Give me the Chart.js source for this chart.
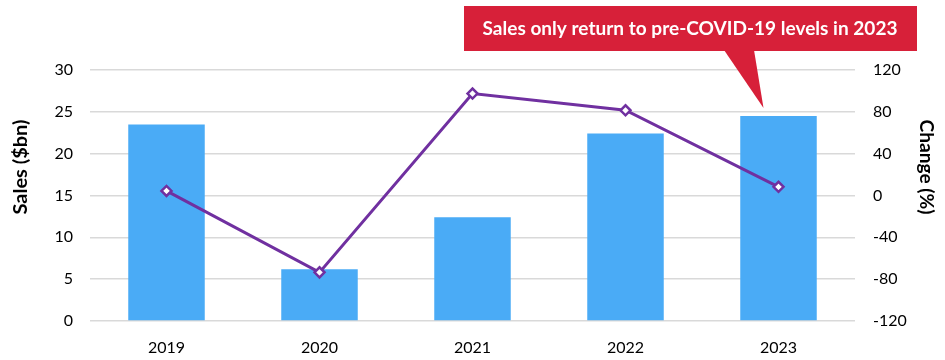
<!DOCTYPE html>
<html><head><meta charset="utf-8">
<script src="https://cdn.jsdelivr.net/npm/chart.js@4"></script>
<style>html,body{margin:0;padding:0;background:#fff;overflow:hidden}</style>
</head>
<body>
<canvas id="c" width="945" height="360"></canvas>
<script>
const categories = ['2019', '2020', '2021', '2022', '2023'];
const salesBn = [23.5, 6.2, 12.4, 22.4, 24.5];
const changePct = [4.4, -73.5, 97.5, 81.5, 8.3];
const leftTicks = [0, 5, 10, 15, 20, 25, 30];
const rightTicks = [-120, -80, -40, 0, 40, 80, 120];
const leftTitle = 'Sales ($bn)';
const rightTitle = 'Change (%)';
const calloutText = 'Sales only return to pre-COVID-19 levels in 2023';

const FONT = 'Lato, "Open Sans", sans-serif';

function fitText(ctx, text, x, y, size, targetW) {
  ctx.font = 'bold ' + size + 'px ' + FONT;
  const w = ctx.measureText(text).width;
  const sx = targetW / w;
  ctx.save();
  ctx.translate(x, y);
  ctx.scale(sx, 1);
  ctx.textAlign = 'center';
  ctx.textBaseline = 'middle';
  ctx.fillText(text, 0, 0);
  ctx.restore();
}

const overlay = {
  id: 'overlay',
  afterDraw(chart) {
    const ctx = chart.ctx;
    ctx.save();
    // axis titles
    ctx.fillStyle = '#000';
    ctx.save();
    ctx.translate(21, 167);
    ctx.rotate(-Math.PI / 2);
    fitText(ctx, leftTitle, 0, 0, 18, 95);
    ctx.restore();
    ctx.save();
    ctx.translate(926, 167);
    ctx.rotate(Math.PI / 2);
    fitText(ctx, rightTitle, 0, 0, 18, 95);
    ctx.restore();

    // callout
    const xs = chart.scales.x, ys = chart.scales.y;
    const last = categories.length - 1;
    const tipX = xs.getPixelForValue(last) - 15;
    const tipY = ys.getPixelForValue(salesBn[last]) - 8;
    const red = '#D72039';
    ctx.fillStyle = red;
    ctx.fillRect(464, 6, 453, 45);
    ctx.beginPath();
    ctx.moveTo(724, 50);
    ctx.lineTo(754, 50);
    ctx.lineTo(tipX, tipY);
    ctx.closePath();
    ctx.fill();
    ctx.fillStyle = '#fff';
    fitText(ctx, calloutText, 690, 29, 18, 415);
    ctx.restore();
  }
};

new Chart(document.getElementById('c'), {
  data: {
    labels: categories,
    datasets: [
      {
        type: 'line',
        label: 'Change (%)',
        data: changePct,
        yAxisID: 'y1',
        borderColor: '#7030A0',
        borderWidth: 3,
        pointStyle: 'rectRot',
        pointRadius: 5,
        pointBorderWidth: 2.5,
        pointBackgroundColor: '#fff',
        pointBorderColor: '#7030A0',
        tension: 0,
        order: 0
      },
      {
        type: 'bar',
        label: 'Sales ($bn)',
        data: salesBn,
        yAxisID: 'y',
        backgroundColor: '#4AABF6',
        barPercentage: 0.5,
        categoryPercentage: 1.0,
        order: 1
      }
    ]
  },
  options: {
    responsive: false,
    devicePixelRatio: 1,
    animation: false,
    layout: { padding: { top: 70, left: 0, right: 0, bottom: 0 } },
    plugins: { legend: { display: false }, tooltip: { enabled: false } },
    scales: {
      x: {
        grid: { display: false, drawTicks: false },
        border: { display: false },
        ticks: { color: '#000', font: { family: FONT, size: 16 }, padding: 17 },
        afterFit(s) { s.height = 39; }
      },
      y: {
        position: 'left',
        min: 0, max: 30,
        afterBuildTicks(s) { s.ticks = leftTicks.map(v => ({ value: v })); },
        grid: { color: '#D9D9D9', lineWidth: 1.5, drawTicks: false },
        border: { display: false },
        ticks: { color: '#000', font: { family: FONT, size: 16 }, padding: 17 },
        afterFit(s) { s.width = 90; }
      },
      y1: {
        position: 'right',
        min: -120, max: 120,
        afterBuildTicks(s) { s.ticks = rightTicks.map(v => ({ value: v })); },
        grid: { display: false, drawTicks: false },
        border: { display: false },
        ticks: { color: '#000', font: { family: FONT, size: 16 }, padding: 18 },
        afterFit(s) { s.width = 90; }
      }
    }
  },
  plugins: [overlay]
});
</script>
</body></html>
